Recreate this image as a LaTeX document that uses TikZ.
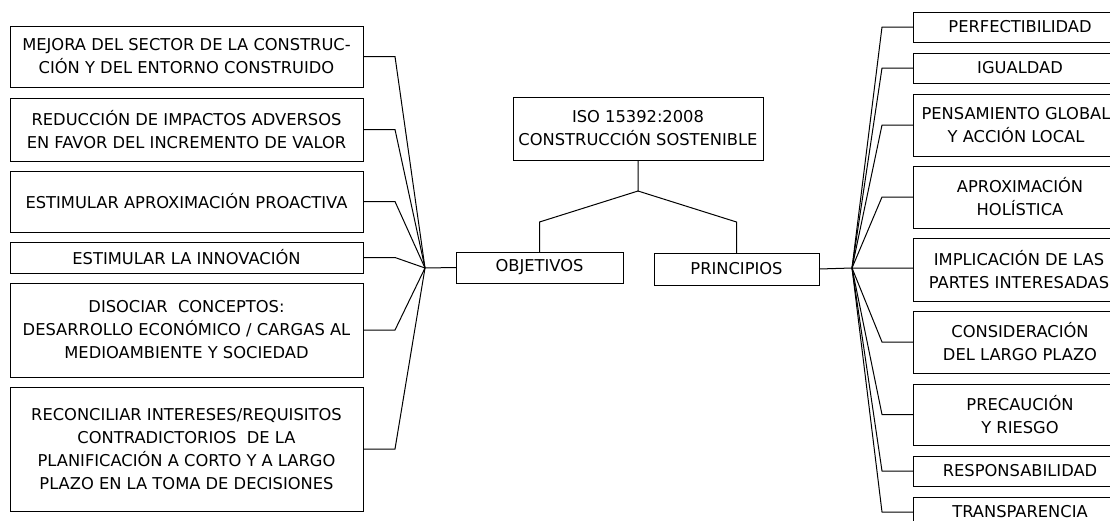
\documentclass[tikz,border=0pt]{standalone}
\usepackage{fontspec}
\setmainfont{DejaVu Sans}
\begin{document}
\begin{tikzpicture}[x=1pt,y=-1pt,
  box/.style={draw, line width=1pt, inner sep=0pt, outer sep=0pt, align=center,
    font=\fontsize{16.3}{23}\selectfont},
  lbox/.style={box, minimum width=353pt},
  rbox/.style={box, minimum width=214pt, anchor=west},
  link/.style={line width=1pt}]
\useasboundingbox (0,0) rectangle (1110,520);
\clip (0,0) rectangle (1110,520);

% central node and its two branches
\node[box, minimum width=250pt, minimum height=63pt] (title) at (638,128.5)
  {ISO 15392:2008\\CONSTRUCCIÓN SOSTENIBLE};
\node[box, minimum width=167pt, minimum height=31pt] (obj) at (539.5,267.5) {OBJETIVOS};
\node[box, minimum width=165pt, minimum height=32pt] (prin) at (736.5,269) {PRINCIPIOS};

\coordinate (split) at (638,191);
\coordinate (kObj) at (539.5,222);
\coordinate (kPrin) at (736.5,222);
\draw[link] (title.south) -- (split) -- (kObj) -- (obj.north);
\draw[link] (split) -- (kPrin) -- (prin.north);

% objectives
\node[lbox, minimum height=61pt] (l1) at (186.5,56.5)
  {\fontsize{16.3}{25}\selectfont MEJORA DEL SECTOR DE LA CONSTRUC-\\CIÓN Y DEL ENTORNO CONSTRUIDO};
\node[lbox, minimum height=63pt] (l2) at (186.5,129.5)
  {REDUCCIÓN DE IMPACTOS ADVERSOS\\EN FAVOR DEL INCREMENTO DE VALOR};
\node[lbox, minimum height=61pt] (l3) at (186.5,201.5) {ESTIMULAR APROXIMACIÓN PROACTIVA};
\node[lbox, minimum height=31pt] (l4) at (186.5,257.5) {ESTIMULAR LA INNOVACIÓN};
\node[lbox, minimum height=94pt] (l5) at (186.5,330)
  {DISOCIAR\ \ CONCEPTOS:\\DESARROLLO ECONÓMICO / CARGAS AL\\MEDIOAMBIENTE Y SOCIEDAD};
\node[lbox, minimum height=124pt] (l6) at (186.5,449)
  {RECONCILIAR INTERESES/REQUISITOS\\CONTRADICTORIOS\ \ DE LA\\PLANIFICACIÓN A CORTO Y A LARGO\\PLAZO EN LA TOMA DE DECISIONES};

\coordinate (hubL) at (425,268);
\draw[link] (hubL) -- (obj.west);
\foreach \n in {l1,l2,l3,l4,l5,l6}
  \draw[link] (\n.east) -- ++(32,0) -- (hubL);

% principles (the boxes run on past the right edge)
\node[rbox, minimum height=30pt] (r1) at (913,27) {PERFECTIBILIDAD};
\node[rbox, minimum height=30pt] (r2) at (913,68) {IGUALDAD};
\node[rbox, minimum height=62pt, minimum width=206pt] (r3) at (913,125)
  {\fontsize{16.3}{25}\selectfont PENSAMIENTO GLOBAL\\Y ACCIÓN LOCAL};
\node[rbox, minimum height=62pt] (r4) at (913,197) {APROXIMACIÓN\\HOLÍSTICA};
\node[rbox, minimum height=63pt, minimum width=212pt] (r5) at (913,269.5)
  {IMPLICACIÓN DE LAS\\PARTES INTERESADAS};
\node[rbox, minimum height=62pt] (r6) at (913,342) {CONSIDERACIÓN\\DEL LARGO PLAZO};
\node[rbox, minimum height=61pt] (r7) at (913,414.5) {PRECAUCIÓN\\Y RIESGO};
\node[rbox, minimum height=30pt] (r8) at (913,471) {RESPONSABILIDAD};
\node[rbox, minimum height=30pt] (r9) at (913,512) {TRANSPARENCIA};

\coordinate (hubR) at (852,268);
\draw[link] (prin.east) -- (hubR) -- (r5.west |- hubR);
\foreach \n in {r1,r2,r3,r4,r6,r7,r8,r9}
  \draw[link] (\n.west) -- ++(-31,0) -- (hubR);
\end{tikzpicture}
\end{document}
